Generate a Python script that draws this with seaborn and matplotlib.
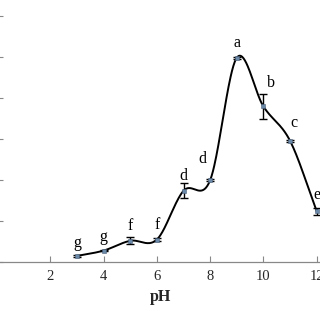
import numpy as np
import pandas as pd
import matplotlib
matplotlib.use("Agg")
import matplotlib.pyplot as plt
import seaborn as sns

ph = [3, 4, 5, 6, 7, 8, 9, 10, 11, 12]
activity = [1.5, 2.8, 5.2, 5.5, 17.4, 20.0, 49.9, 38.0, 29.6, 12.4]
errors = [0.3, 0.2, 0.9, 0.3, 1.8, 0.3, 0.3, 3.0, 0.3, 0.8]
letters = ["g", "g", "f", "f", "d", "d", "a", "b", "c", "e"]
letter_x = [3.0, 4.0, 5.0, 6.0, 7.0, 7.72, 9.0, 10.3, 11.16, 12.0]
letter_y = [4.6, 6.1, 8.8, 9.0, 21.0, 25.1, 53.4, 43.7, 33.9, 16.3]
xticks = [2, 4, 6, 8, 10, 12]
yticks = [0, 10, 20, 30, 40, 50, 60]

sns.set_theme(style="white")
plt.rcParams["font.family"] = ["Liberation Serif", "DejaVu Serif"]

df = pd.DataFrame({"pH": ph, "activity": activity, "err": errors})

# smoothed line (Catmull-Rom, like a spreadsheet "smoothed line")
x = np.array(ph, float)
y = np.array(activity, float)
xs_all, ys_all = [], []
n = len(x)
for i in range(n - 1):
    p0 = i - 1 if i > 0 else i
    p3 = i + 2 if i + 2 < n else i + 1
    mx0 = (x[i + 1] - x[p0]) / (2 if i > 0 else 1)
    my0 = (y[i + 1] - y[p0]) / (2 if i > 0 else 1)
    mx1 = (x[p3] - x[i]) / (2 if i + 2 < n else 1)
    my1 = (y[p3] - y[i]) / (2 if i + 2 < n else 1)
    t = np.linspace(0, 1, 40)
    h00 = 2 * t**3 - 3 * t**2 + 1
    h10 = t**3 - 2 * t**2 + t
    h01 = -2 * t**3 + 3 * t**2
    h11 = t**3 - t**2
    xs_all.append(h00 * x[i] + h10 * mx0 + h01 * x[i + 1] + h11 * mx1)
    ys_all.append(h00 * y[i] + h10 * my0 + h01 * y[i + 1] + h11 * my1)
curve = pd.DataFrame({"x": np.concatenate(xs_all), "y": np.concatenate(ys_all)})

fig = plt.figure(figsize=(3.2, 3.2), dpi=100)
ax = fig.add_axes([-0.0094, 0.181, 1.02, 0.819])

sns.lineplot(data=curve, x="x", y="y", sort=False, color="black", lw=1.4, ax=ax)
ax.errorbar(df["pH"], df["activity"], yerr=df["err"], fmt="none",
            ecolor="black", elinewidth=1.0, capsize=3, capthick=1.0, zorder=3)
sns.scatterplot(data=df, x="pH", y="activity", marker="s", s=9,
                color="#6a88a8", edgecolor="#4a6078", linewidth=0.4, ax=ax, zorder=4)

for lx, ly, lab in zip(letter_x, letter_y, letters):
    ax.text(lx, ly, lab, ha="center", va="center", fontsize=11.5,
            color="black")

ax.set_xlim(0, 12.25)
ax.set_ylim(0, 64)
ax.set_xticks(xticks)
ax.set_xticklabels([str(v) for v in xticks], fontsize=10.5)
ax.set_yticks(yticks)
ax.set_yticklabels([])
ax.tick_params(axis="both", direction="in", length=4, color="#888888", width=0.8,
               pad=6, bottom=True, left=True)
ax.set_xlabel("pH", fontsize=11.5, fontweight="bold", labelpad=4)
ax.set_ylabel("")
for s in ["top", "right"]:
    ax.spines[s].set_visible(False)
for s in ["left", "bottom"]:
    ax.spines[s].set_color("#888888")
    ax.spines[s].set_linewidth(0.9)

fig.savefig("out.png", dpi=100)
